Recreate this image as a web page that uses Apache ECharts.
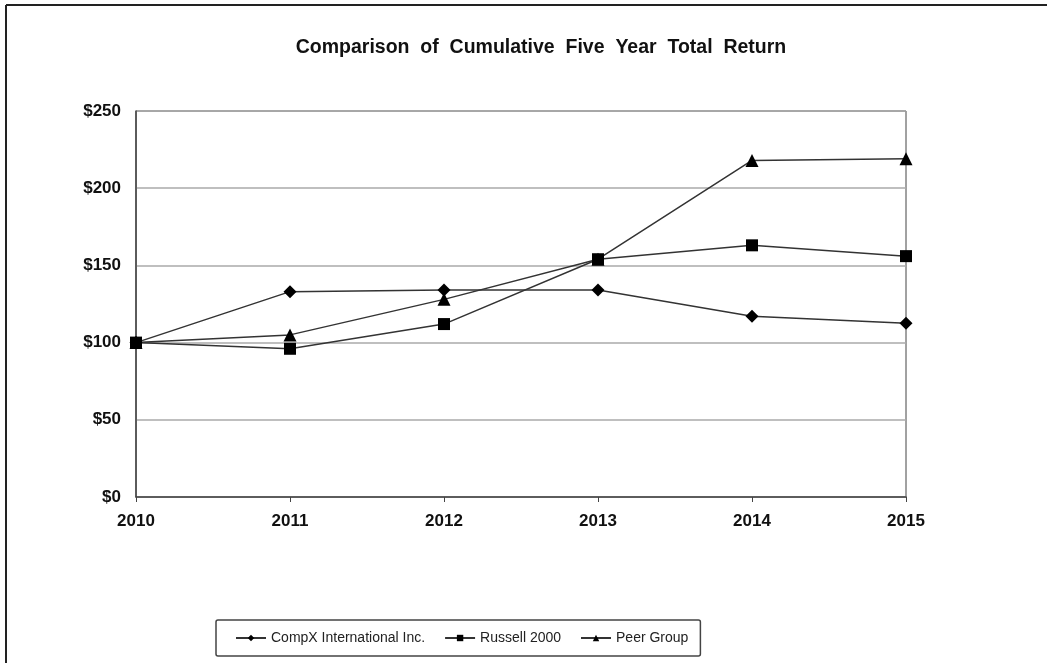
<!DOCTYPE html>
<html>
<head>
<meta charset="utf-8">
<script src="https://cdn.jsdelivr.net/npm/echarts@6/dist/echarts.min.js"></script>
<style>
html,body{margin:0;padding:0;background:#fff;}
#c{width:1047px;height:663px;}
</style>
</head>
<body>
<div id="c"></div>
<script>
var years = ['2010','2011','2012','2013','2014','2015'];
var compx = [100, 133, 134, 134, 117, 112.5];
var russell = [100, 96, 112, 154, 163, 156];
var peer = [100, 105, 128, 154, 218, 219];
var yTicks = [0, 50, 100, 150, 200, 250];

var chart = echarts.init(document.getElementById('c'));
var font = '"Liberation Sans", Arial, sans-serif';
function s(name, data, sym, size) {
  return {
    name: name, type: 'line', data: data,
    symbol: sym, symbolSize: size,
    lineStyle: {color: '#333', width: 1.5},
    itemStyle: {color: '#000'},
    emphasis: {disabled: true},
    animation: false
  };
}
chart.setOption({
  backgroundColor: '#fff',
  animation: false,
  title: {
    text: 'Comparison  of  Cumulative  Five  Year  Total  Return',
    left: 536, top: 33, textAlign: 'center',
    textStyle: {fontFamily: font, fontSize: 19.5, fontWeight: 'bold', color: '#111'}
  },
  grid: {left: 136, top: 111, width: 770, height: 386, show: true, borderColor: '#444', borderWidth: 1},
  xAxis: {
    type: 'category', data: years, boundaryGap: false,
    axisLine: {lineStyle: {color: '#444', width: 1.5}},
    axisTick: {show: true, length: 5, lineStyle: {color: '#444'}},
    axisLabel: {fontFamily: font, fontSize: 17, fontWeight: 'bold', color: '#111', margin: 16}
  },
  yAxis: {
    type: 'value', min: yTicks[0], max: yTicks[yTicks.length - 1], interval: 50,
    axisLine: {show: true, lineStyle: {color: '#444', width: 1.5}},
    axisTick: {show: false},
    splitLine: {lineStyle: {color: '#aaa', width: 1.5}},
    axisLabel: {fontFamily: font, fontSize: 17, fontWeight: 'bold', color: '#111', margin: 15,
      formatter: function(v){ return '$' + v; }}
  },
  legend: {
    left: 216, top: 620,
    padding: [11, 12, 11, 19],
    borderColor: '#444', borderWidth: 1.5, borderRadius: 2,
    itemGap: 19, itemWidth: 30, itemHeight: 8,
    textStyle: {fontFamily: font, fontSize: 14, color: '#222'},
    data: ['CompX International Inc.', 'Russell 2000', 'Peer Group']
  },
  graphic: [
    {type: 'line', shape: {x1: 6, y1: 5, x2: 6, y2: 663}, style: {stroke: '#222', lineWidth: 2}},
    {type: 'line', shape: {x1: 6, y1: 5, x2: 1047, y2: 5}, style: {stroke: '#222', lineWidth: 2}}
  ],
  series: [
    s('CompX International Inc.', compx, 'diamond', 13),
    s('Russell 2000', russell, 'rect', 12),
    s('Peer Group', peer, 'triangle', 13)
  ]
});
</script>
</body>
</html>
